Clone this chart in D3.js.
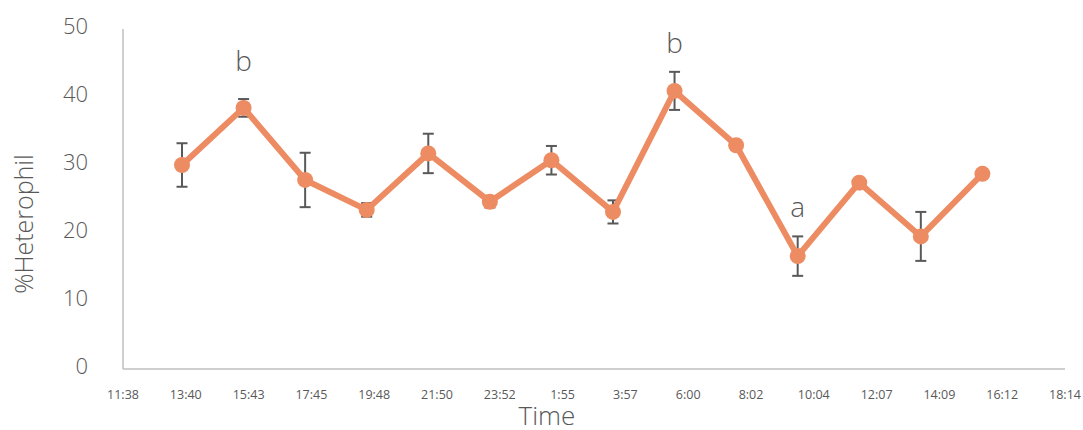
<!DOCTYPE html>
<html>
<head>
<meta charset="utf-8">
<script src="https://cdn.jsdelivr.net/npm/d3@7"></script>
<style>
  html, body { margin: 0; padding: 0; background: #fff; }
  svg { display: block; font-family: "Open Sans", "Noto Sans", sans-serif; }
</style>
</head>
<body>
<svg id="chart" width="1083" height="430"></svg>
<script>
// Sampling times (every 2 h, running over midnight into the next day)
const sampleTimes = ["13:33", "15:33", "17:33", "19:33", "21:33", "23:33", "1:33",
                     "3:33", "5:33", "7:33", "9:33", "11:33", "13:33", "15:33"];
// Mean %heterophil at each sampling time
const heterophilMean = [30.0, 38.4, 27.8, 23.4, 31.7, 24.6, 30.7,
                        23.1, 40.9, 32.9, 16.6, 27.4, 19.5, 28.7];
// Standard error of each mean
const heterophilErr = [3.2, 1.3, 4.0, 1.0, 2.9, 0.85, 2.1,
                       1.7, 2.8, 0.6, 2.9, 0.4, 3.6, 0.4];
// Significance letters (sample index -> letter)
const sigIndex = [1, 8, 10];
const sigLetter = ["b", "b", "a"];

// Axis: starts at 11:38 and runs 30 h 36 min, labelled every 122.4 min
const axisStart = "11:38";
const axisSpanMin = 1836;
const tickStepMin = 122.4;
const xTickLabels = ["11:38", "13:40", "15:43", "17:45", "19:48", "21:50", "23:52", "1:55",
                     "3:57", "6:00", "8:02", "10:04", "12:07", "14:09", "16:12", "18:14"];
const yTicks = [0, 10, 20, 30, 40, 50];

const toMin = s => { const [h, m] = s.split(":").map(Number); return h * 60 + m; };
const startMin = toMin(axisStart);
// minutes elapsed since the axis start, rolling over midnight
let dayOffset = 0, prevMin = -1;
const sampleMin = sampleTimes.map(s => {
  const m = toMin(s);
  if (m < prevMin) dayOffset += 1440;
  prevMin = m;
  return m + dayOffset - startMin;
});

const data = heterophilMean.map((v, i) => ({ t: sampleMin[i], v, e: heterophilErr[i] }));

const svg = d3.select("#chart");
const plotLeft = 123, plotRight = 1065, plotTop = 29, plotBottom = 369;

const x = d3.scaleLinear().domain([0, axisSpanMin]).range([plotLeft, plotRight]);
const y = d3.scaleLinear().domain([0, 50]).range([plotBottom, plotTop]);

const gray = "#595959";
const axisGray = "#bfbfbf";
const orange = "#ed8c63";

// Axis lines
svg.append("line").attr("x1", plotLeft).attr("x2", plotLeft).attr("y1", y(50)).attr("y2", y(0))
  .attr("stroke", axisGray).attr("stroke-width", 1.5);
svg.append("line").attr("x1", plotLeft).attr("x2", plotRight).attr("y1", y(0)).attr("y2", y(0))
  .attr("stroke", axisGray).attr("stroke-width", 1.5);

// Y tick labels
svg.append("g").selectAll("text").data(yTicks).join("text")
  .attr("x", 88).attr("y", d => y(d)).attr("dy", "0.22em")
  .attr("text-anchor", "end").attr("fill", gray)
  .style("font-size", "22px").style("font-weight", 300)
  .text(d => d);

// X tick labels
svg.append("g").selectAll("text").data(xTickLabels).join("text")
  .attr("x", (d, i) => x(i * tickStepMin)).attr("y", 399)
  .attr("text-anchor", "middle").attr("fill", gray)
  .style("font-size", "12.5px")
  .text(d => d);

// Axis titles
svg.append("text").attr("x", 547).attr("y", 425)
  .attr("text-anchor", "middle").attr("fill", gray)
  .style("font-size", "26px").style("font-weight", 300)
  .text("Time");
svg.append("text")
  .attr("transform", `translate(33,${224}) rotate(-90)`)
  .attr("text-anchor", "middle").attr("fill", gray)
  .style("font-size", "25px").style("font-weight", 300)
  .text("%Heterophil");

// Error bars
const eb = svg.append("g").attr("stroke", gray).attr("stroke-width", 2);
data.forEach(d => {
  const cx = x(d.t), y1 = y(d.v + d.e), y2 = y(d.v - d.e);
  eb.append("line").attr("x1", cx).attr("x2", cx).attr("y1", y1).attr("y2", y2);
  eb.append("line").attr("x1", cx - 5.5).attr("x2", cx + 5.5).attr("y1", y1).attr("y2", y1);
  eb.append("line").attr("x1", cx - 5.5).attr("x2", cx + 5.5).attr("y1", y2).attr("y2", y2);
});

// Line and markers
svg.append("path").datum(data)
  .attr("fill", "none").attr("stroke", orange).attr("stroke-width", 6)
  .attr("stroke-linejoin", "round")
  .attr("d", d3.line().x(d => x(d.t)).y(d => y(d.v)));
svg.append("g").selectAll("circle").data(data).join("circle")
  .attr("cx", d => x(d.t)).attr("cy", d => y(d.v)).attr("r", 8)
  .attr("fill", orange);

// Significance letters above the error bars
svg.append("g").selectAll("text").data(sigIndex).join("text")
  .attr("x", i => x(data[i].t))
  .attr("y", (i, k) => y(data[i].v + data[i].e) - (k === 0 ? 28 : 19))
  .attr("text-anchor", "middle").attr("fill", gray)
  .style("font-size", "28px").style("font-weight", 300)
  .text((i, k) => sigLetter[k]);
</script>
</body>
</html>
